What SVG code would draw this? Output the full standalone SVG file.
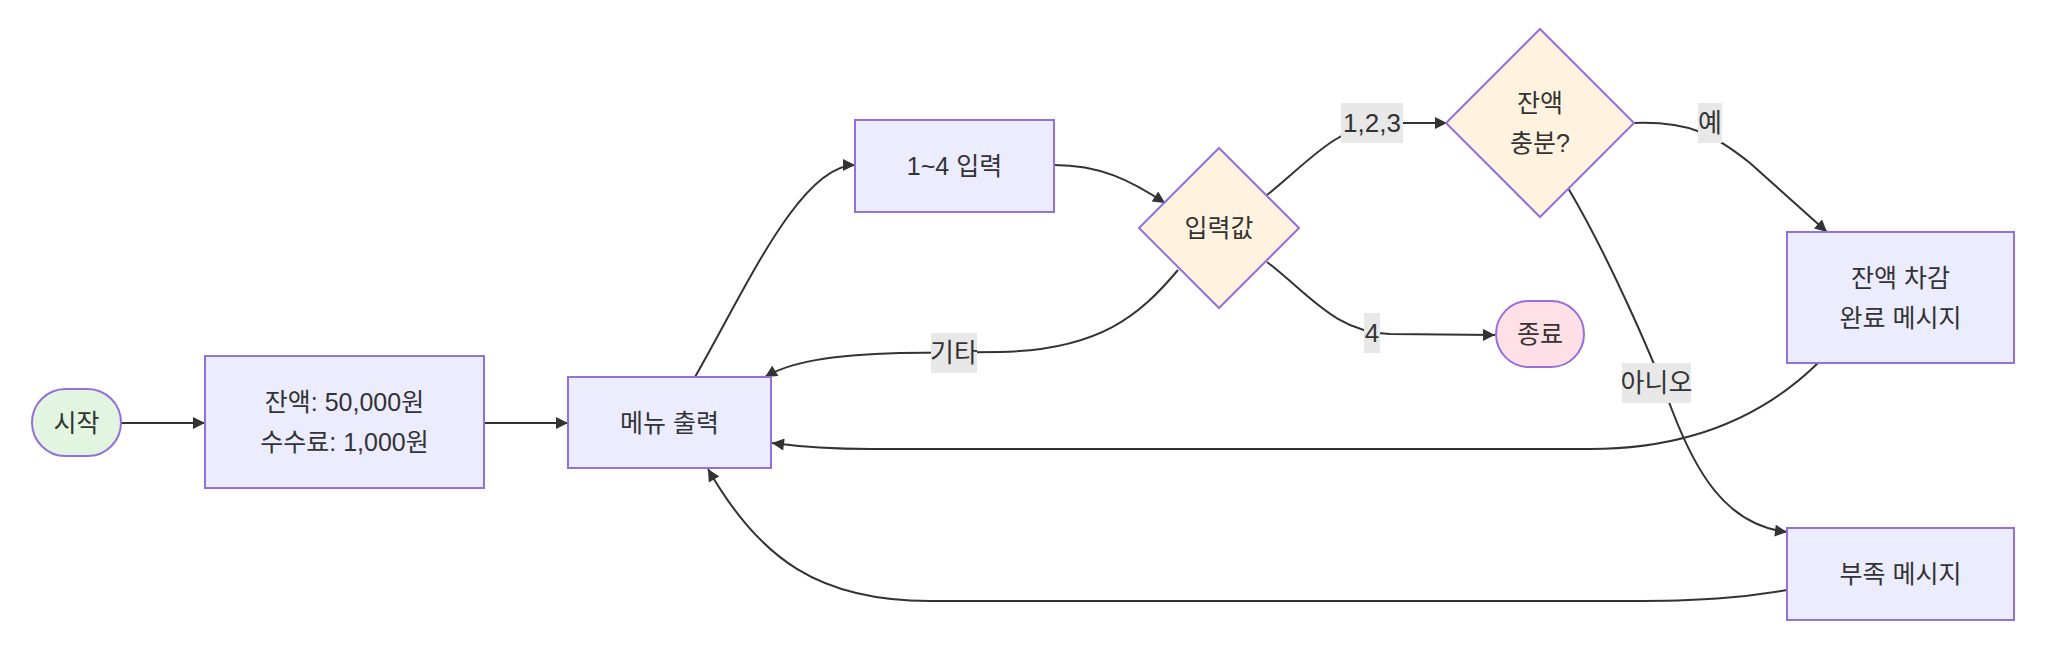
<svg xmlns="http://www.w3.org/2000/svg" width="2048" height="668" viewBox="0 0 2048 668">
<defs>
<marker id="arrow" viewBox="0 0 10 10" refX="10" refY="5" markerUnits="userSpaceOnUse" markerWidth="14" markerHeight="12" orient="auto">
<path d="M0,0 L10,5 L0,10 z" fill="#333"/>
</marker>
<style>
.node rect, .node polygon { fill: #ECECFF; stroke: #9370DB; stroke-width: 2; }
.node.start rect { fill: #E1F5E1; }
.node.end rect { fill: #FFE0E6; }
.node.dec polygon { fill: #FFF3E0; }
text { font-family: "Liberation Sans", "Noto Sans CJK KR", sans-serif; font-size: 25px; fill: #333; text-anchor: middle; dominant-baseline: central; }
.lbl text { font-size: 26px; }
.edges path { fill: none; stroke: #333; stroke-width: 2; marker-end: url(#arrow); }
.lbl rect { fill: #E8E8E8; stroke: none; }
</style>
</defs>
<rect x="0" y="0" width="2048" height="668" fill="#ffffff"/>

<g class="edges" id="edges">
<path d="M121,423 L205,423"/>
<path d="M484,423 L568,423"/>
<path d="M695,377 C745,290 800,165 855,165"/>
<path d="M1054,165 C1100,165 1130,180 1165,203"/>
<path d="M1267,195 C1305,165 1335,128 1380,123 L1447,123"/>
<path d="M1267,262 C1310,295 1335,332 1390,334 L1495,335"/>
<path d="M1178,270 C1140,315 1100,350 1000,352 L900,353 C830,355 790,362 765,377"/>
<path d="M1634,123 C1690,121 1715,135 1750,163 L1827,232"/>
<path d="M1568,188 C1605,250 1650,350 1672,410 C1695,470 1725,525 1787,532"/>
<path d="M1818,363 C1770,410 1700,449 1590,449 L870,449 C820,449 795,446 772,443"/>
<path d="M1787,590 C1740,598 1700,601 1630,601 L930,601 C820,601 760,560 708,469"/>
</g>

<g id="edge-labels">
<g class="lbl" id="lbl-123"><rect x="1341" y="103" width="62" height="40"/><text x="1372" y="123">1,2,3</text></g>
<g class="lbl" id="lbl-4"><rect x="1364" y="313" width="16" height="40"/><text x="1372" y="333">4</text></g>
<g class="lbl" id="lbl-etc"><rect x="931" y="333" width="46" height="40"/><text x="954" y="353">기타</text></g>
<g class="lbl" id="lbl-yes"><rect x="1698" y="103" width="24" height="40"/><text x="1710" y="123">예</text></g>
<g class="lbl" id="lbl-no"><rect x="1622" y="363" width="69" height="40"/><text x="1656.5" y="383">아니오</text></g>
</g>

<g class="node start" id="start"><rect x="32" y="389" width="89" height="67" rx="33.5" ry="33.5"/><text x="76.5" y="422.5">시작</text></g>
<g class="node" id="init"><rect x="205" y="356" width="279" height="132"/><text x="344.5" y="402">잔액: 50,000원</text><text x="344.5" y="442">수수료: 1,000원</text></g>
<g class="node" id="menu"><rect x="568" y="377" width="203" height="91"/><text x="669.5" y="422.5">메뉴 출력</text></g>
<g class="node" id="input"><rect x="855" y="120" width="199" height="92"/><text x="954.5" y="166">1~4 입력</text></g>
<g class="node dec" id="choice"><polygon points="1219,148 1299,228 1219,308 1139,228"/><text x="1219" y="228">입력값</text></g>
<g class="node dec" id="check"><polygon points="1540,29 1634,123 1540,217 1446,123"/><text x="1540" y="103">잔액</text><text x="1540" y="143">충분?</text></g>
<g class="node end" id="end"><rect x="1496" y="301" width="88" height="66" rx="33" ry="33"/><text x="1540" y="334">종료</text></g>
<g class="node" id="deduct"><rect x="1787" y="232" width="227" height="131"/><text x="1900.5" y="278">잔액 차감</text><text x="1900.5" y="318">완료 메시지</text></g>
<g class="node" id="short"><rect x="1787" y="528" width="227" height="92"/><text x="1900.5" y="574">부족 메시지</text></g>
</svg>
